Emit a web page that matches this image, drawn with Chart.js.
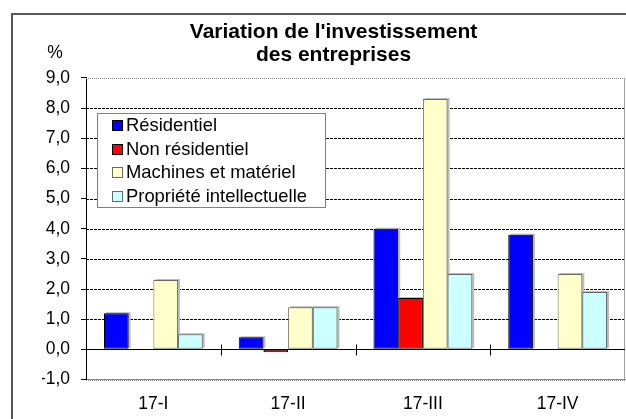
<!DOCTYPE html>
<html>
<head>
<meta charset="utf-8">
<script src="https://cdn.jsdelivr.net/npm/chart.js@4/dist/chart.umd.min.js"></script>
<style>
  html, body { margin: 0; padding: 0; background: #fff; }
  #wrap { position: relative; width: 626px; height: 419px; }
</style>
</head>
<body>
<div id="wrap"><canvas id="c" width="626" height="419"></canvas></div>
<script>
// ---- data ----
const titleLines = ["Variation de l'investissement", "des entreprises"];
const unitLabel = "%";
const categories = ["17-I", "17-II", "17-III", "17-IV"];
const seriesNames = ["Résidentiel", "Non résidentiel", "Machines et matériel", "Propriété intellectuelle"];
const residentiel = [1.2, 0.4, 4.0, 3.8];
const nonResidentiel = [null, -0.1, 1.7, null];
const machines = [2.3, 1.4, 8.3, 2.5];
const propriete = [0.5, 1.4, 2.5, 1.9];
const yMin = -1, yMax = 9, yStep = 1;

// ---- styles ----
const fills = ['#0000FF', '#FF0000', '#FFFFCC', '#CCFFFF'];
const borders = ['#000000', '#000000', '#6b6b58', '#5f6b6b'];
const FONT = "'Liberation Sans', Arial, sans-serif";
const seriesValues = [residentiel, nonResidentiel, machines, propriete];

const frameAndAxes = {
  id: 'frameAndAxes',
  beforeDraw(chart) {
    const ctx = chart.ctx;
    ctx.save();
    ctx.fillStyle = '#fff';
    ctx.fillRect(0, 0, chart.width, chart.height);
    ctx.strokeStyle = '#5a5a5a';
    ctx.lineWidth = 2;
    ctx.strokeRect(12, 14, 1000, 1000);
    ctx.restore();
  },
  beforeDatasetsDraw(chart) {
    const ctx = chart.ctx, ca = chart.chartArea;
    const ys = chart.scales.y;
    ctx.save();
    // dashed horizontal grid lines at each y tick
    ctx.lineWidth = 1;
    ys.ticks.forEach((t) => {
      if (t.value === 0) return;
      const py = Math.round(ys.getPixelForValue(t.value)) + 0.5;
      const edge = (t.value === yMax || t.value === yMin);
      ctx.strokeStyle = edge ? '#8a8a8a' : '#000';
      ctx.setLineDash(edge ? [1, 1] : [3, 1]);
      ctx.beginPath();
      ctx.moveTo(ca.left, py);
      ctx.lineTo(ca.right, py);
      ctx.stroke();
    });
    ctx.setLineDash([]);
    // right plot border (gray)
    ctx.strokeStyle = '#a0a0a0';
    ctx.beginPath();
    ctx.moveTo(Math.round(ca.right) - 0.5, ca.top);
    ctx.lineTo(Math.round(ca.right) - 0.5, ca.bottom);
    ctx.stroke();
    // bar shadows
    ctx.fillStyle = '#bdbdbd';
    chart.data.datasets.forEach((ds, di) => {
      const meta = chart.getDatasetMeta(di);
      meta.data.forEach((el, i) => {
        if (ds.data[i] === null || ds.data[i] < 0) return;
        const p = el.getProps(['x', 'y', 'base', 'width'], true);
        const l = p.x - p.width / 2, r = p.x + p.width / 2;
        ctx.fillRect(l + 2, Math.min(p.y, p.base) - 1, r - l, Math.abs(p.base - p.y));
      });
    });
    ctx.restore();
  },
  afterDatasetsDraw(chart) {
    const ctx = chart.ctx, ca = chart.chartArea;
    const xs = chart.scales.x, ys = chart.scales.y;
    const y0 = Math.round(ys.getPixelForValue(0)) + 0.5;
    ctx.save();
    ctx.strokeStyle = '#000';
    ctx.lineWidth = 1;
    ctx.beginPath();
    ctx.moveTo(ca.left, y0);
    ctx.lineTo(ca.right, y0);
    // boundary ticks crossing the zero line
    for (let i = 1; i < categories.length; i++) {
      const bx = Math.round((xs.getPixelForValue(i - 1) + xs.getPixelForValue(i)) / 2) + 0.5;
      ctx.moveTo(bx, y0 - 5);
      ctx.lineTo(bx, y0 + 6);
    }
    ctx.stroke();
    ctx.restore();
  },
  afterDraw(chart) {
    const ctx = chart.ctx;
    ctx.save();
    // unit label
    ctx.fillStyle = '#000';
    ctx.font = '17.5px ' + FONT;
    ctx.textAlign = 'center';
    ctx.textBaseline = 'middle';
    ctx.fillText(unitLabel, 55, 53);
    // legend
    const bx = 97.5, by = 113.5, bw = 228, bh = 94;
    ctx.fillStyle = '#fff';
    ctx.fillRect(bx, by, bw, bh);
    ctx.strokeStyle = '#808080';
    ctx.lineWidth = 1;
    ctx.strokeRect(bx, by, bw, bh);
    ctx.font = '18.4px ' + FONT;
    ctx.textAlign = 'left';
    ctx.textBaseline = 'middle';
    chart.data.datasets.forEach((ds, i) => {
      const cy = 125 + i * 23.6;
      ctx.fillStyle = ds.backgroundColor;
      ctx.fillRect(112.5, Math.round(cy - 5) + 0.5, 10, 10);
      ctx.strokeStyle = ds.borderColor;
      ctx.strokeRect(112.5, Math.round(cy - 5) + 0.5, 10, 10);
      ctx.fillStyle = '#000';
      ctx.fillText(ds.label, 126, cy + 1);
    });
    ctx.restore();
  }
};

const datasets = seriesNames.map((name, i) => ({
  label: name,
  data: seriesValues[i],
  backgroundColor: fills[i],
  borderColor: borders[i],
  borderWidth: 1,
  borderSkipped: false,
  categoryPercentage: 0.733,
  barPercentage: 1.0
}));

new Chart(document.getElementById('c'), {
  type: 'bar',
  data: { labels: categories, datasets },
  plugins: [frameAndAxes],
  options: {
    responsive: false,
    animation: false,
    events: [],
    layout: { padding: { left: 42, right: 1, top: 0, bottom: 0 } },
    plugins: {
      legend: { display: false },
      tooltip: { enabled: false },
      title: {
        display: true,
        text: titleLines,
        color: '#000',
        font: { family: FONT, size: 21, weight: 'bold', lineHeight: 1.07 },
        padding: { top: 21, bottom: 12 }
      }
    },
    scales: {
      x: {
        grid: { display: false },
        border: { display: true, color: '#8a8a8a', width: 1 },
        ticks: { color: '#000', font: { family: FONT, size: 17.5 }, padding: 6, maxRotation: 0 },
        afterFit(scale) { scale.height = 39.5; }
      },
      y: {
        min: yMin, max: yMax,
        grid: {
          drawOnChartArea: false,
          color: '#000',
          tickColor: '#000',
          tickLength: 5,
          lineWidth: 1
        },
        border: { display: true, color: '#000', width: 1 },
        ticks: {
          stepSize: yStep,
          color: '#000',
          font: { family: FONT, size: 17.5 },
          padding: 11,
          callback: (v) => Number(v).toFixed(1).replace('.', ',')
        },
        afterFit(scale) { scale.width = 44; }
      }
    }
  }
});
</script>
</body>
</html>
